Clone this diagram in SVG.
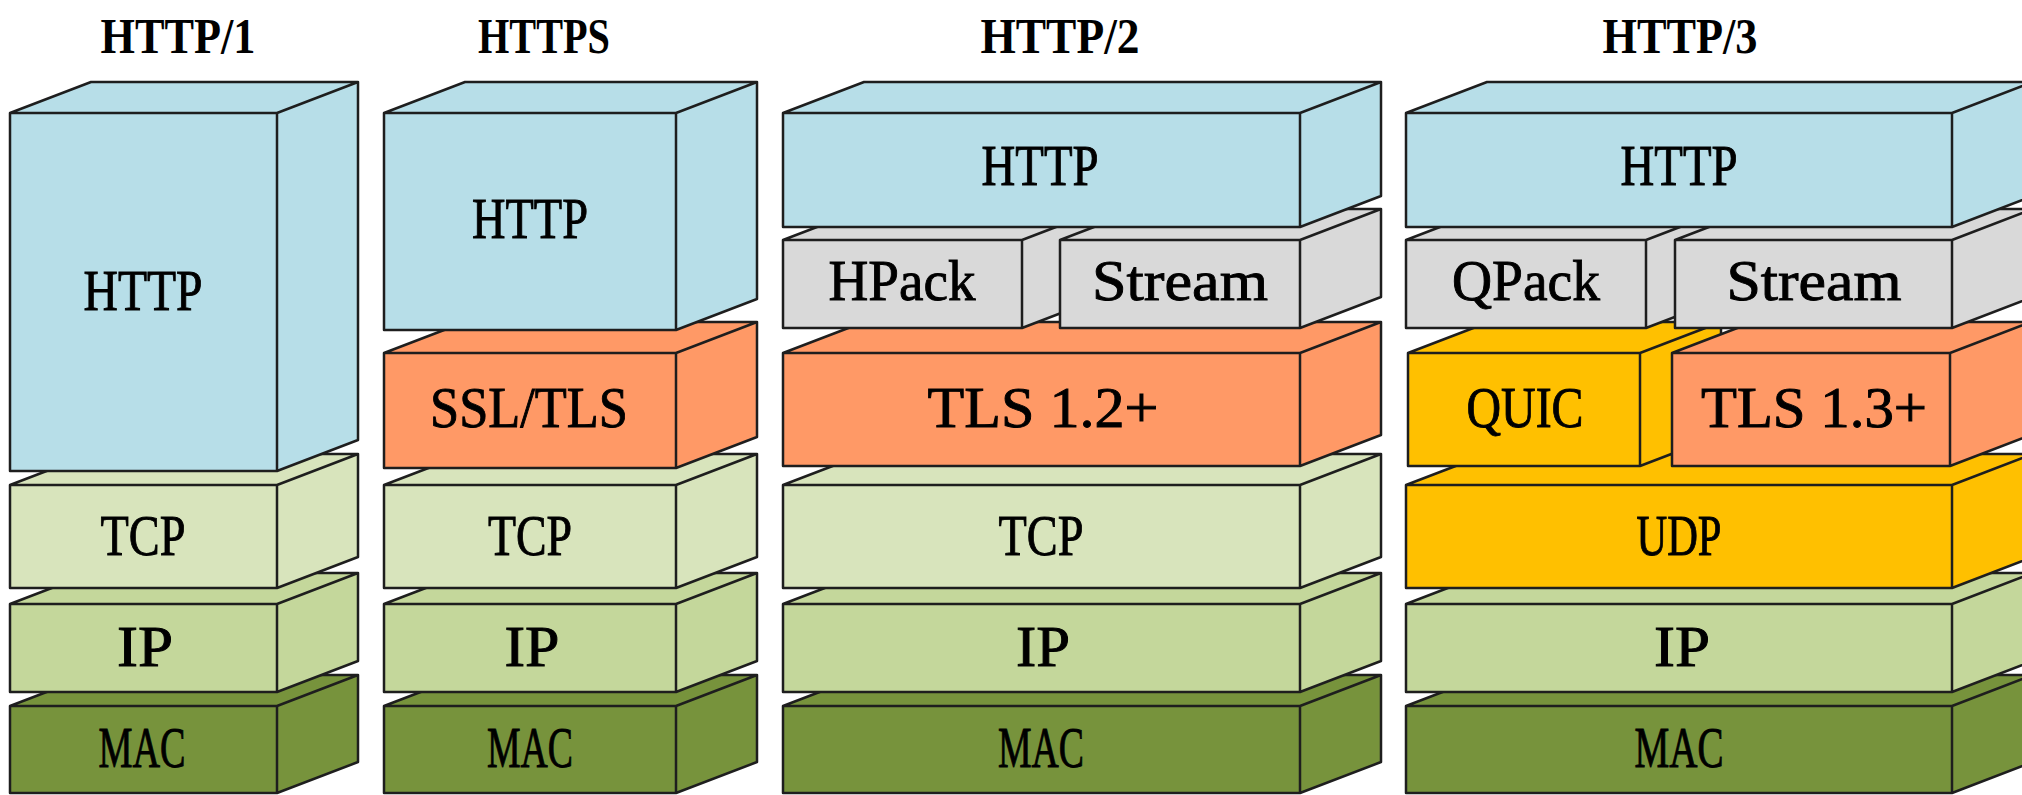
<svg xmlns="http://www.w3.org/2000/svg" width="2022" height="795" viewBox="0 0 2022 795">
<style>
  .box path { stroke: #1e1e1e; stroke-width: 2.5; stroke-linejoin: round; }
  .blue { fill: #B7DEE8; }
  .gray { fill: #D9D9D9; }
  .orange { fill: #FF9966; }
  .tcp { fill: #D8E4BC; }
  .ip { fill: #C4D79B; }
  .mac { fill: #77933C; }
  .gold { fill: #FFC000; }
  text { font-family: "Liberation Serif", "Times New Roman", serif; text-anchor: middle; fill: #000; }
  .lbl { font-size: 56px; stroke: #000; stroke-width: 0.9; }
  .ttl { font-size: 50px; font-weight: bold; }
</style>
<rect x="0" y="0" width="2022" height="795" fill="#ffffff"/>

<!-- Titles -->
<g id="title-http1"><text class="ttl" x="178" y="53" textLength="155" lengthAdjust="spacingAndGlyphs">HTTP/1</text></g>
<g id="title-https"><text class="ttl" x="544" y="53" textLength="132" lengthAdjust="spacingAndGlyphs">HTTPS</text></g>
<g id="title-http2"><text class="ttl" x="1060" y="53" textLength="159" lengthAdjust="spacingAndGlyphs">HTTP/2</text></g>
<g id="title-http3"><text class="ttl" x="1680" y="53" textLength="155" lengthAdjust="spacingAndGlyphs">HTTP/3</text></g>

<!-- Column 1: HTTP/1 -->
<g id="c1-mac" class="box">
  <path class="mac" d="M10 706 h267 v87 h-267 z M10 706 l81 -31 h267 l-81 31 z M277 706 l81 -31 v87 l-81 31 z"/>
  <text class="lbl" x="142" y="767" textLength="87" lengthAdjust="spacingAndGlyphs">MAC</text>
</g>
<g id="c1-ip" class="box">
  <path class="ip" d="M10 604 h267 v88 h-267 z M10 604 l81 -31 h267 l-81 31 z M277 604 l81 -31 v88 l-81 31 z"/>
  <text class="lbl" x="145" y="666" textLength="56" lengthAdjust="spacingAndGlyphs">IP</text>
</g>
<g id="c1-tcp" class="box">
  <path class="tcp" d="M10 485 h267 v103 h-267 z M10 485 l81 -31 h267 l-81 31 z M277 485 l81 -31 v103 l-81 31 z"/>
  <text class="lbl" x="143" y="555" textLength="85" lengthAdjust="spacingAndGlyphs">TCP</text>
</g>
<g id="c1-http" class="box">
  <path class="blue" d="M10 113 h267 v358 h-267 z M10 113 l81 -31 h267 l-81 31 z M277 113 l81 -31 v358 l-81 31 z"/>
  <text class="lbl" x="143" y="310" textLength="119" lengthAdjust="spacingAndGlyphs">HTTP</text>
</g>

<!-- Column 2: HTTPS -->
<g id="c2-mac" class="box">
  <path class="mac" d="M384 706 h292 v87 h-292 z M384 706 l81 -31 h292 l-81 31 z M676 706 l81 -31 v87 l-81 31 z"/>
  <text class="lbl" x="530" y="767" textLength="86" lengthAdjust="spacingAndGlyphs">MAC</text>
</g>
<g id="c2-ip" class="box">
  <path class="ip" d="M384 604 h292 v88 h-292 z M384 604 l81 -31 h292 l-81 31 z M676 604 l81 -31 v88 l-81 31 z"/>
  <text class="lbl" x="532" y="666" textLength="55" lengthAdjust="spacingAndGlyphs">IP</text>
</g>
<g id="c2-tcp" class="box">
  <path class="tcp" d="M384 485 h292 v103 h-292 z M384 485 l81 -31 h292 l-81 31 z M676 485 l81 -31 v103 l-81 31 z"/>
  <text class="lbl" x="530" y="555" textLength="84" lengthAdjust="spacingAndGlyphs">TCP</text>
</g>
<g id="c2-tls" class="box">
  <path class="orange" d="M384 353 h292 v115 h-292 z M384 353 l81 -31 h292 l-81 31 z M676 353 l81 -31 v115 l-81 31 z"/>
  <text class="lbl" x="529" y="427" textLength="198" lengthAdjust="spacingAndGlyphs">SSL/TLS</text>
</g>
<g id="c2-http" class="box">
  <path class="blue" d="M384 113 h292 v217 h-292 z M384 113 l81 -31 h292 l-81 31 z M676 113 l81 -31 v217 l-81 31 z"/>
  <text class="lbl" x="530" y="238" textLength="116" lengthAdjust="spacingAndGlyphs">HTTP</text>
</g>

<!-- Column 3: HTTP/2 -->
<g id="c3-mac" class="box">
  <path class="mac" d="M783 706 h517 v87 h-517 z M783 706 l81 -31 h517 l-81 31 z M1300 706 l81 -31 v87 l-81 31 z"/>
  <text class="lbl" x="1041" y="767" textLength="86" lengthAdjust="spacingAndGlyphs">MAC</text>
</g>
<g id="c3-ip" class="box">
  <path class="ip" d="M783 604 h517 v88 h-517 z M783 604 l81 -31 h517 l-81 31 z M1300 604 l81 -31 v88 l-81 31 z"/>
  <text class="lbl" x="1043" y="666" textLength="54" lengthAdjust="spacingAndGlyphs">IP</text>
</g>
<g id="c3-tcp" class="box">
  <path class="tcp" d="M783 485 h517 v103 h-517 z M783 485 l81 -31 h517 l-81 31 z M1300 485 l81 -31 v103 l-81 31 z"/>
  <text class="lbl" x="1041" y="555" textLength="85" lengthAdjust="spacingAndGlyphs">TCP</text>
</g>
<g id="c3-tls" class="box">
  <path class="orange" d="M783 353 h517 v113 h-517 z M783 353 l81 -31 h517 l-81 31 z M1300 353 l81 -31 v113 l-81 31 z"/>
  <text class="lbl" x="1043" y="427" textLength="231" lengthAdjust="spacingAndGlyphs">TLS 1.2+</text>
</g>
<g id="c3-hpack" class="box">
  <path class="gray" d="M783 240 h239 v88 h-239 z M783 240 l81 -31 h239 l-81 31 z M1022 240 l81 -31 v88 l-81 31 z"/>
  <text class="lbl" x="902" y="300" textLength="147" lengthAdjust="spacingAndGlyphs">HPack</text>
</g>
<g id="c3-stream" class="box">
  <path class="gray" d="M1060 240 h240 v88 h-240 z M1060 240 l81 -31 h240 l-81 31 z M1300 240 l81 -31 v88 l-81 31 z"/>
  <text class="lbl" x="1180" y="300" textLength="176" lengthAdjust="spacingAndGlyphs">Stream</text>
</g>
<g id="c3-http" class="box">
  <path class="blue" d="M783 113 h517 v114 h-517 z M783 113 l81 -31 h517 l-81 31 z M1300 113 l81 -31 v114 l-81 31 z"/>
  <text class="lbl" x="1040" y="185" textLength="117" lengthAdjust="spacingAndGlyphs">HTTP</text>
</g>

<!-- Column 4: HTTP/3 -->
<g id="c4-mac" class="box">
  <path class="mac" d="M1406 706 h546 v87 h-546 z M1406 706 l81 -31 h546 l-81 31 z M1952 706 l81 -31 v87 l-81 31 z"/>
  <text class="lbl" x="1679" y="767" textLength="89" lengthAdjust="spacingAndGlyphs">MAC</text>
</g>
<g id="c4-ip" class="box">
  <path class="ip" d="M1406 604 h546 v88 h-546 z M1406 604 l81 -31 h546 l-81 31 z M1952 604 l81 -31 v88 l-81 31 z"/>
  <text class="lbl" x="1682" y="666" textLength="56" lengthAdjust="spacingAndGlyphs">IP</text>
</g>
<g id="c4-udp" class="box">
  <path class="gold" d="M1406 485 h546 v103 h-546 z M1406 485 l81 -31 h546 l-81 31 z M1952 485 l81 -31 v103 l-81 31 z"/>
  <text class="lbl" x="1679" y="555" textLength="85" lengthAdjust="spacingAndGlyphs">UDP</text>
</g>
<g id="c4-quic" class="box">
  <path class="gold" d="M1408 353 h232 v113 h-232 z M1408 353 l81 -31 h232 l-81 31 z M1640 353 l81 -31 v113 l-81 31 z"/>
  <text class="lbl" x="1525" y="427" textLength="117" lengthAdjust="spacingAndGlyphs">QUIC</text>
</g>
<g id="c4-tls" class="box">
  <path class="orange" d="M1672 353 h278 v113 h-278 z M1672 353 l81 -31 h278 l-81 31 z M1950 353 l81 -31 v113 l-81 31 z"/>
  <text class="lbl" x="1814" y="427" textLength="226" lengthAdjust="spacingAndGlyphs">TLS 1.3+</text>
</g>
<g id="c4-qpack" class="box">
  <path class="gray" d="M1406 240 h240 v88 h-240 z M1406 240 l81 -31 h240 l-81 31 z M1646 240 l81 -31 v88 l-81 31 z"/>
  <text class="lbl" x="1526" y="300" textLength="148" lengthAdjust="spacingAndGlyphs">QPack</text>
</g>
<g id="c4-stream" class="box">
  <path class="gray" d="M1675 240 h277 v88 h-277 z M1675 240 l81 -31 h277 l-81 31 z M1952 240 l81 -31 v88 l-81 31 z"/>
  <text class="lbl" x="1814" y="300" textLength="175" lengthAdjust="spacingAndGlyphs">Stream</text>
</g>
<g id="c4-http" class="box">
  <path class="blue" d="M1406 113 h546 v114 h-546 z M1406 113 l81 -31 h546 l-81 31 z M1952 113 l81 -31 v114 l-81 31 z"/>
  <text class="lbl" x="1679" y="185" textLength="117" lengthAdjust="spacingAndGlyphs">HTTP</text>
</g>
</svg>
